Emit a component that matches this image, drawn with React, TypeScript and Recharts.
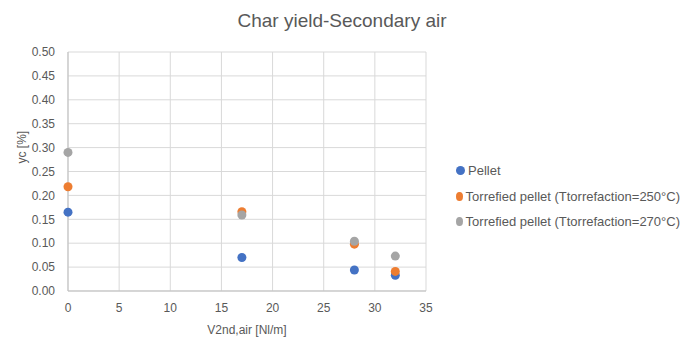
import React from "react";
import {
  ScatterChart,
  Scatter,
  CartesianGrid,
  XAxis,
  YAxis,
  Legend,
} from "recharts";

// Values
const airFlow = [0, 17, 28, 32];
const pelletYield = [0.165, 0.07, 0.044, 0.033];
const torrefied250Yield = [0.218, 0.166, 0.098, 0.041];
const torrefied270Yield = [0.29, 0.159, 0.104, 0.073];

const xTicks = [0, 5, 10, 15, 20, 25, 30, 35];
const yTicks = [0, 0.05, 0.1, 0.15, 0.2, 0.25, 0.3, 0.35, 0.4, 0.45, 0.5];

const seriesNames = [
  "Pellet",
  "Torrefied pellet (Ttorrefaction=250°C)",
  "Torrefied pellet (Ttorrefaction=270°C)",
];
const seriesColors = ["#4472C4", "#ED7D31", "#A5A5A5"];

const toPoints = (ys: number[]) => airFlow.map((x, i) => ({ x, y: ys[i] }));

const FONT = "'Liberation Sans', Arial, sans-serif";
const TEXT = "#595959";

const Dot = (props: any) => {
  const { cx, cy, fill } = props;
  return <circle cx={cx} cy={cy} r={4.5} fill={fill} />;
};

// legend drawn as plain rows, placed to the right of the plot
const LegendRows = () => (
  <div style={{ fontFamily: FONT, fontSize: 13, color: TEXT }}>
    {seriesNames.map((name, i) => (
      <div
        key={name}
        style={{ display: "flex", alignItems: "center", height: 25.5 }}
      >
        <span
          style={{
            display: "inline-block",
            width: 9,
            height: 9,
            borderRadius: "50%",
            background: seriesColors[i],
            marginRight: 3,
          }}
        />
        <span style={{ whiteSpace: "nowrap" }}>{name}</span>
      </div>
    ))}
  </div>
);

const App = () => {
  const series = [pelletYield, torrefied250Yield, torrefied270Yield];
  return (
    <div
      style={{
        position: "absolute",
        left: 0,
        top: 0,
        width: 680,
        height: 340,
        background: "#fff",
        fontFamily: FONT,
      }}
    >
      <div
        style={{
          position: "absolute",
          left: 0,
          width: 684,
          top: 10,
          textAlign: "center",
          fontSize: 19,
          color: TEXT,
        }}
      >
        Char yield-Secondary air
      </div>
      <ScatterChart
        width={680}
        height={340}
        margin={{ top: 52, right: 254, bottom: 0, left: 0 }}
      >
        <CartesianGrid stroke="#d9d9d9" strokeWidth={1} />
        <XAxis
          type="number"
          dataKey="x"
          domain={[0, 35]}
          ticks={xTicks}
          interval={0}
          height={49}
          axisLine={{ stroke: "#bfbfbf" }}
          tickLine={false}
          tick={{ fill: TEXT, fontSize: 12, fontFamily: FONT }}
          tickMargin={6}
          label={{
            value: "V2nd,air  [Nl/m]",
            position: "insideBottom",
            offset: 6,
            fill: TEXT,
            fontSize: 12,
            fontFamily: FONT,
          }}
        />
        <YAxis
          type="number"
          dataKey="y"
          domain={[0, 0.5]}
          ticks={yTicks}
          interval={0}
          width={68}
          axisLine={{ stroke: "#bfbfbf" }}
          tickLine={false}
          tickFormatter={(v: number) => v.toFixed(2)}
          tick={{ fill: TEXT, fontSize: 12, fontFamily: FONT }}
          tickMargin={7}
          label={{
            value: "yc [%]",
            angle: -90,
            position: "insideLeft",
            offset: 22,
            dy: -8,
            fill: TEXT,
            fontSize: 12,
            fontFamily: FONT,
          }}
        />
        <Legend
          layout="vertical"
          align="center"
          verticalAlign="middle"
          wrapperStyle={{
            position: "absolute",
            left: 456,
            top: 158,
            width: 224,
          }}
          content={() => <LegendRows />}
        />
        {series.map((ys, i) => (
          <Scatter
            key={seriesNames[i]}
            name={seriesNames[i]}
            data={toPoints(ys)}
            fill={seriesColors[i]}
            shape={<Dot />}
            isAnimationActive={false}
          />
        ))}
      </ScatterChart>
    </div>
  );
};

export default App;
